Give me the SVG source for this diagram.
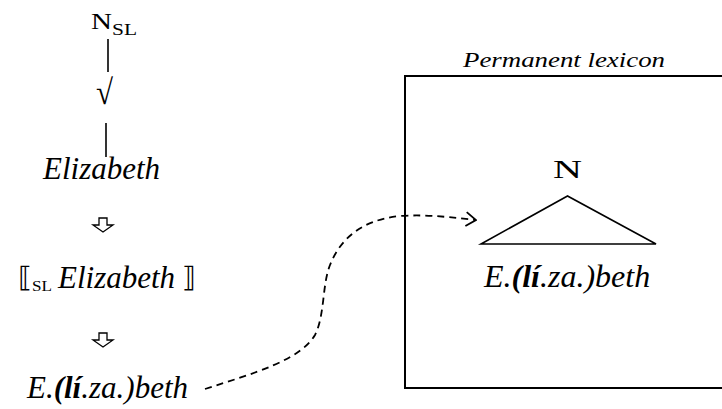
<svg xmlns="http://www.w3.org/2000/svg" width="722" height="409" viewBox="0 0 722 409">
<style>
text{font-family:'Liberation Serif','DejaVu Serif',serif;fill:#000}
.i{font-style:italic}
.b{font-weight:bold}
.br{font-family:'DejaVu Sans',sans-serif}
.ln{stroke:#000;stroke-width:1.6;fill:none}
.dash{stroke:#000;stroke-width:1.8;fill:none;stroke-dasharray:7 5}
.blk{fill:#fff;stroke:#000;stroke-width:1.3}
</style>
<defs>
<marker id="open" viewBox="0 0 12 16" refX="11" refY="8" markerWidth="12" markerHeight="16" markerUnits="userSpaceOnUse" orient="auto">
<path d="M1 1 L11 8 L1 15" fill="none" stroke="#000" stroke-width="1.8"/>
</marker>
</defs>
<rect width="722" height="409" fill="#fff"/>
<g id="nsl">
<text x="91" y="29" font-size="24" textLength="21" lengthAdjust="spacingAndGlyphs">N</text>
<text x="112" y="35" font-size="16" textLength="25" lengthAdjust="spacingAndGlyphs">SL</text>
</g>
<g id="root">
<text x="96" y="104" font-size="35" textLength="17" lengthAdjust="spacingAndGlyphs">√</text>
</g>
<g id="elizabeth">
<text class="i" x="43" y="179" font-size="31">Elizabeth</text>
</g>
<g id="sl-elizabeth">
<text class="br" x="18" y="287" font-size="28">⟦</text>
<text x="32" y="291" font-size="15" textLength="20" lengthAdjust="spacingAndGlyphs">SL</text>
<text class="i" x="58" y="288" font-size="31">Elizabeth</text>
<text class="br" x="182" y="287" font-size="28">⟧</text>
</g>
<g id="syllabified">
<text class="i" x="27" y="398" font-size="31"><tspan>E.</tspan><tspan class="b">(lí</tspan><tspan>.za.)beth</tspan></text>
</g>
<g id="lexicon">
<text class="i" x="463" y="67" font-size="21" textLength="202" lengthAdjust="spacingAndGlyphs">Permanent lexicon</text>
<rect x="405" y="76" width="330" height="312" fill="none" stroke="#000" stroke-width="2"/>
</g>
<g id="lex-entry">
<text x="567.5" y="178" font-size="26" text-anchor="middle" textLength="29" lengthAdjust="spacingAndGlyphs">N</text>
<polygon points="567.5,196 481,244 656,244" fill="none" stroke="#000" stroke-width="1.6"/>
<text class="i" x="484" y="287" font-size="32"><tspan>E.</tspan><tspan class="b">(lí</tspan><tspan>.za.)beth</tspan></text>
</g>
<g id="connectors">
<line class="ln" x1="108" y1="39" x2="108" y2="72"/>
<line class="ln" x1="106" y1="123" x2="106" y2="157"/>
<polygon class="blk" points="99,218 107,218 107,225 113,225 103,232 93,225 99,225"/>
<polygon class="blk" points="99,333 107,333 107,340 113,340 103,347 93,340 99,340"/>
<path class="dash" d="M205 389 C255 373 300 360 315 335 C325 315 322 285 330 265 C340 240 360 220 400 216 C430 214 455 218 476 220" marker-end="url(#open)"/>
</g>
</svg>
